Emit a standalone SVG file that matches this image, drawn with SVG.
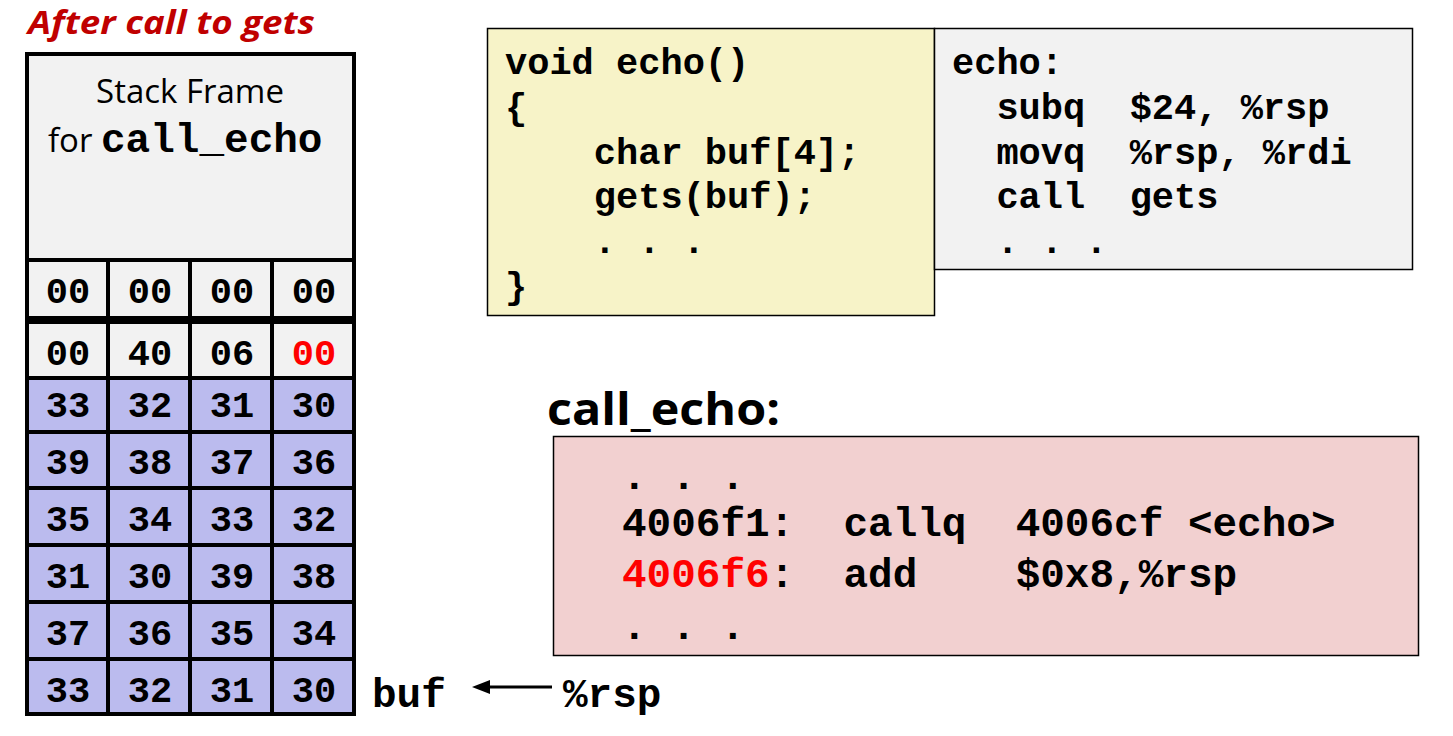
<svg xmlns="http://www.w3.org/2000/svg" width="1453" height="736" viewBox="0 0 1453 736">
<style>
.m{font-family:"Liberation Mono",monospace;font-weight:bold;font-size:37px;fill:#000}
.p{font-size:41px}
.c{font-family:"Liberation Mono",monospace;font-weight:bold;font-size:37px;text-anchor:middle}
.s{font-family:"Open Sans","Liberation Sans",sans-serif}
.cell{stroke:#000;stroke-width:4}
</style>
<rect width="1453" height="736" fill="#fff"/>
<text x="28" y="34" class="s" font-size="33" font-style="italic" font-weight="bold" fill="#c00000" textLength="287" lengthAdjust="spacingAndGlyphs">After call to gets</text>
<g id="stack">
<rect x="27" y="54" width="327" height="206" fill="#f2f2f2" class="cell"/>
<text x="190" y="103" class="s" font-size="33" text-anchor="middle">Stack Frame</text>
<text x="48" y="152" class="s" font-size="33">for <tspan font-family="Liberation Mono,monospace" font-weight="bold" font-size="41">call_echo</tspan></text>
<g fill="#f2f2f2" class="cell">
<rect x="27" y="260" width="81" height="58"/><rect x="108" y="260" width="82" height="58"/><rect x="190" y="260" width="82" height="58"/><rect x="272" y="260" width="82" height="58"/>
<rect x="27" y="322" width="81" height="56"/><rect x="108" y="322" width="82" height="56"/><rect x="190" y="322" width="82" height="56"/><rect x="272" y="322" width="82" height="56"/>
</g>
<g fill="#bbbbee" class="cell">
<rect x="27" y="378" width="327" height="54"/><rect x="27" y="432" width="327" height="56"/><rect x="27" y="488" width="327" height="57"/><rect x="27" y="545" width="327" height="57"/><rect x="27" y="602" width="327" height="57"/><rect x="27" y="659" width="327" height="55"/>
<line x1="108" y1="378" x2="108" y2="714"/><line x1="190" y1="378" x2="190" y2="714"/><line x1="272" y1="378" x2="272" y2="714"/>
</g>
<g class="c">
<text x="68" y="303">00</text><text x="150" y="303">00</text><text x="232" y="303">00</text><text x="314" y="303">00</text>
<text x="68" y="365">00</text><text x="150" y="365">40</text><text x="232" y="365">06</text><text x="314" y="365" fill="#f00">00</text>
<text x="68" y="417">33</text><text x="150" y="417">32</text><text x="232" y="417">31</text><text x="314" y="417">30</text>
<text x="68" y="474">39</text><text x="150" y="474">38</text><text x="232" y="474">37</text><text x="314" y="474">36</text>
<text x="68" y="531">35</text><text x="150" y="531">34</text><text x="232" y="531">33</text><text x="314" y="531">32</text>
<text x="68" y="588">31</text><text x="150" y="588">30</text><text x="232" y="588">39</text><text x="314" y="588">38</text>
<text x="68" y="645">37</text><text x="150" y="645">36</text><text x="232" y="645">35</text><text x="314" y="645">34</text>
<text x="68" y="702">33</text><text x="150" y="702">32</text><text x="232" y="702">31</text><text x="314" y="702">30</text>
</g>
</g>
<g id="echo-c">
<rect x="487.5" y="28.5" width="447" height="287" fill="#f7f3c8" stroke="#000" stroke-width="1.5"/>
<text class="m" xml:space="preserve"><tspan x="505" y="74">void echo()</tspan><tspan x="505" y="119">{</tspan><tspan x="505" y="164">    char buf[4];</tspan><tspan x="505" y="208">    gets(buf);</tspan><tspan x="505" y="253">    . . .</tspan><tspan x="505" y="298">}</tspan></text>
</g>
<g id="echo-asm">
<rect x="934.5" y="28.5" width="478" height="241" fill="#f2f2f2" stroke="#000" stroke-width="1.5"/>
<text class="m" xml:space="preserve"><tspan x="952" y="74">echo:</tspan><tspan x="952" y="119">  subq  $24, %rsp</tspan><tspan x="952" y="164">  movq  %rsp, %rdi</tspan><tspan x="952" y="208">  call  gets</tspan><tspan x="952" y="253">  . . .</tspan></text>
</g>
<g id="call-echo">
<text x="547" y="425" class="s" font-size="44" font-weight="bold" textLength="233" lengthAdjust="spacingAndGlyphs">call_echo:</text>
<rect x="553.5" y="436.5" width="865" height="219" fill="#f2d0d0" stroke="#000" stroke-width="1.5"/>
<text class="m p" xml:space="preserve"><tspan x="622" y="489">. . .</tspan><tspan x="622" y="536">4006f1:  callq  4006cf &lt;echo&gt;</tspan><tspan x="622" y="587"><tspan fill="#f00">4006f6</tspan>:  add    $0x8,%rsp</tspan><tspan x="622" y="639">. . .</tspan></text>
</g>
<g id="connectors">
<line x1="552" y1="687" x2="486" y2="687" stroke="#000" stroke-width="3"/>
<polygon points="472,687 490,680 490,694" fill="#000"/>
</g>
<text x="372" y="707" class="m p">buf</text>
<text x="563" y="707" class="m p">%rsp</text>
</svg>
